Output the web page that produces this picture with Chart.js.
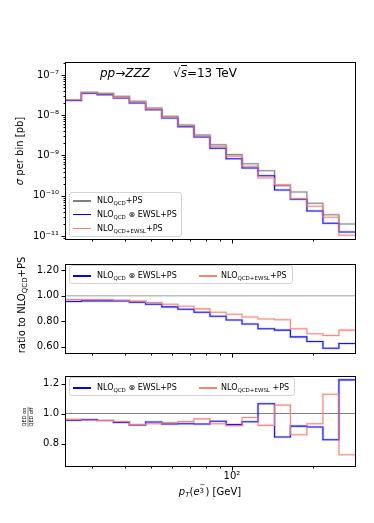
<!DOCTYPE html>
<html><head><meta charset="utf-8">
<script src="https://cdn.jsdelivr.net/npm/chart.js@4/dist/chart.umd.min.js"></script>
<style>
html,body{margin:0;padding:0;background:#fff;}
#wrap{position:relative;width:374px;height:523px;overflow:hidden;font-family:"DejaVu Sans",sans-serif;color:#000;}
canvas{position:absolute;left:0;top:0;}
.t{position:absolute;white-space:nowrap;line-height:1;}
.leg{position:absolute;background:rgba(255,255,255,0.85);border:1px solid #d4d4d4;border-radius:3px;box-sizing:border-box;font-size:8px;}
.li{position:absolute;white-space:nowrap;line-height:1;transform:translateY(-50%);}
.sw{position:absolute;height:1.6px;width:18px;}
.leg sub{font-size:5.5px;vertical-align:-1.5px;line-height:0;}
.yl sub{font-size:7px;vertical-align:-2px;line-height:0;}
</style></head>
<body>
<div id="wrap">
<canvas id="c1" width="374" height="523"></canvas>
<canvas id="c2" width="374" height="523"></canvas>
<canvas id="c3" width="374" height="523"></canvas>

<div class="t" style="left:100px;top:67px;font-size:12px;"><i>pp</i>→<i>ZZZ</i></div>
<div class="t" style="left:173px;top:67px;font-size:12px;">√<span style="border-top:1px solid #000;font-style:italic;">s</span>=13 TeV</div>

<div class="t" style="left:20px;top:151px;font-size:10px;transform:translate(-50%,-50%) rotate(-90deg);"><i>σ</i> per bin [pb]</div>
<div class="t yl" style="left:22px;top:305px;font-size:10px;transform:translate(-50%,-50%) rotate(-90deg);">ratio to NLO<sub>QCD</sub>+PS</div>
<div class="t" style="left:28px;top:417px;font-size:10px;transform:translate(-50%,-50%) rotate(-90deg) scale(0.5);text-align:center;">
  <div style="border-bottom:1.5px solid #000;padding:0 1px 1px 1px;">QED on</div><div style="padding-top:1px;">QED off</div></div>

<div class="t" style="left:210px;top:493px;font-size:10px;transform:translate(-50%,-50%);"><i>p<sub style="font-size:7px;vertical-align:-2px;">T</sub></i>(<i>e</i><span style="display:inline-block;position:relative;width:6px;"><span style="position:absolute;left:0;top:-5px;font-size:7px;">−</span><span style="position:absolute;left:0;top:1px;font-size:7px;">3</span>&nbsp;</span>) [GeV]</div>

<div class="leg" style="left:69px;top:192px;width:113px;height:45px;">
  <div class="sw" style="left:3px;top:7px;background:#808080;"></div><div class="li" style="left:27px;top:8px;">NLO<sub>QCD</sub>+PS</div>
  <div class="sw" style="left:3px;top:20.5px;background:#0000ff;"></div><div class="li" style="left:27px;top:21.5px;">NLO<sub>QCD</sub> ⊗ EWSL+PS</div>
  <div class="sw" style="left:3px;top:34.5px;background:#fa8072;"></div><div class="li" style="left:27px;top:35.5px;">NLO<sub>QCD+EWSL</sub>+PS</div>
</div>
<div class="leg" style="left:69px;top:265px;width:224px;height:19px;">
  <div class="sw" style="left:3px;top:9px;background:#0000ff;"></div><div class="li" style="left:27px;top:10px;">NLO<sub>QCD</sub> ⊗ EWSL+PS</div>
  <div class="sw" style="left:129px;top:9px;background:#fa8072;"></div><div class="li" style="left:151px;top:10px;">NLO<sub>QCD+EWSL</sub>+PS</div>
</div>
<div class="leg" style="left:69px;top:377px;width:226px;height:19px;">
  <div class="sw" style="left:3px;top:9px;background:#0000ff;"></div><div class="li" style="left:27px;top:10px;">NLO<sub>QCD</sub> ⊗ EWSL+PS</div>
  <div class="sw" style="left:129px;top:9px;background:#fa8072;"></div><div class="li" style="left:151px;top:10px;">NLO<sub>QCD+EWSL</sub> +PS</div>
</div>
</div>

<script>
// ---- data ----
const binEdges = [23.9, 27.5, 31.5, 36.2, 41.5, 47.7, 54.8, 62.9, 72.2, 82.8, 95.1, 109, 125, 144, 165, 190, 218, 250, 287];

const sigmaNLOQCD = [2.39e-8, 3.72e-8, 3.51e-8, 2.96e-8, 2.22e-8, 1.51e-8, 9.42e-9, 5.73e-9, 3.23e-9, 1.85e-9, 1.05e-9, 6.25e-10, 4.19e-10, 1.78e-10, 1.24e-10, 6.49e-11, 3.38e-11, 1.99e-11];
const sigmaEWSLmult = [2.32e-8, 3.51e-8, 3.24e-8, 2.69e-8, 2.01e-8, 1.37e-8, 8.55e-9, 5.20e-9, 2.88e-9, 1.51e-9, 8.32e-10, 4.89e-10, 3.15e-10, 1.39e-10, 8.17e-11, 4.18e-11, 2.07e-11, 1.26e-11];
const sigmaEWSLadd = [2.39e-8, 3.63e-8, 3.37e-8, 2.79e-8, 2.13e-8, 1.43e-8, 8.89e-9, 5.41e-9, 3.05e-9, 1.69e-9, 9.55e-10, 5.39e-10, 2.76e-10, 1.88e-10, 8.46e-11, 5.47e-11, 2.92e-11, 1.04e-11];

const ratioEWSLmult = [0.955, 0.960, 0.960, 0.960, 0.950, 0.934, 0.913, 0.894, 0.870, 0.839, 0.810, 0.778, 0.741, 0.730, 0.677, 0.640, 0.587, 0.625];
const ratioEWSLadd = [0.970, 0.970, 0.970, 0.965, 0.958, 0.947, 0.934, 0.918, 0.897, 0.870, 0.855, 0.833, 0.817, 0.812, 0.741, 0.701, 0.688, 0.730];

const qedEWSLmult = [0.955, 0.959, 0.953, 0.941, 0.923, 0.943, 0.930, 0.932, 0.930, 0.948, 0.926, 0.945, 1.065, 0.843, 0.916, 0.910, 0.825, 1.224];
const qedEWSLadd = [0.961, 0.957, 0.953, 0.946, 0.926, 0.932, 0.939, 0.946, 0.964, 0.932, 0.919, 0.973, 0.921, 1.056, 0.858, 0.932, 1.128, 0.725];

const xTickValues = [30, 40, 50, 60, 70, 80, 90, 100, 200];
const xMajorTicks = [100];
const sigmaMajorTicks = [1e-11, 1e-10, 1e-9, 1e-8, 1e-7];
const ratioTicks = [0.6, 0.8, 1.0, 1.2];
const qedTicks = [0.8, 1.0, 1.2];

// ---- helpers ----
const COL = {gray:'#808080', blue:'#0000ff', salmon:'#fa8072'};
const SUP = {'-':'\u207B','0':'\u2070','1':'\u00B9','2':'\u00B2','3':'\u00B3','4':'\u2074','5':'\u2075','6':'\u2076','7':'\u2077','8':'\u2078','9':'\u2079'};
const supStr = s => String(s).split('').map(c=>SUP[c]).join('');
const pow10Label = v => '10' + supStr(Math.round(Math.log10(v)));

function stepData(vals){
  const d = vals.map((v,i)=>({x:binEdges[i], y:v}));
  d.push({x:binEdges[binEdges.length-1], y:vals[vals.length-1]});
  return d;
}
function hexA(hex,a){const n=parseInt(hex.slice(1),16);return `rgba(${n>>16},${(n>>8)&255},${n&255},${a})`;}
function lineSets(list){
  const main = list.map(([vals,c])=>({data:stepData(vals), borderColor:hexA(c,0.9), borderWidth:1.1, stepped:'before', pointRadius:0, fill:false}));
  const halo = list.map(([vals,c])=>({data:stepData(vals), borderColor:hexA(c,0.2), borderWidth:2.6, stepped:'before', pointRadius:0, fill:false}));
  return main.concat(halo);
}

const framePlugin = {
  id:'frame',
  beforeDatasetsDraw(chart, args, opts){
    if(opts.ref == null) return;
    const {ctx, chartArea:a, scales:{y}} = chart;
    const py = y.getPixelForValue(opts.ref);
    ctx.save(); ctx.strokeStyle = opts.refColor; ctx.lineWidth = opts.refWidth;
    ctx.beginPath(); ctx.moveTo(a.left, py); ctx.lineTo(a.right, py); ctx.stroke(); ctx.restore();
  },
  afterDraw(chart){
    const {ctx, chartArea:a, scales:{x,y}} = chart;
    ctx.save(); ctx.strokeStyle = '#000'; ctx.lineWidth = 1;
    ctx.strokeRect(Math.round(a.left)+0.5, Math.round(a.top)+0.5, Math.round(a.right-a.left), Math.round(a.bottom-a.top));
    ctx.beginPath();
    x.ticks.forEach(t=>{const px=Math.round(x.getPixelForValue(t.value))+0.5; const l=t.mj?4:2; ctx.moveTo(px,Math.round(a.bottom)+0.5); ctx.lineTo(px,Math.round(a.bottom)+0.5+l);});
    y.ticks.forEach(t=>{const py=Math.round(y.getPixelForValue(t.value))+0.5; const l=t.mj?4:2; ctx.moveTo(Math.round(a.left)+0.5,py); ctx.lineTo(Math.round(a.left)+0.5-l,py);});
    ctx.stroke(); ctx.restore();
  }
};
Chart.register(framePlugin);

const FONT = {family:'DejaVu Sans', size:10};

function xScale(showLabels, h){
  return {
    type:'logarithmic', min:binEdges[0], max:binEdges[binEdges.length-1], display:true,
    grid:{display:false, drawTicks:false}, border:{display:false},
    ticks:{display:showLabels, autoSkip:false, maxRotation:0, minRotation:0, padding:4, font:FONT, color:'#000',
      callback:(v,i,ts)=> ts[i] && ts[i].mj ? pow10Label(v) : ''},
    afterBuildTicks:s=>{ s.ticks = xTickValues.map(v=>({value:v, mj:xMajorTicks.includes(v)})); },
    afterFit:s=>{ s.height = h; }
  };
}

function makeChart(id, datasets, yScale, pad, xLabels, xH, pluginOpts){
  new Chart(document.getElementById(id), {
    type:'line',
    data:{datasets},
    options:{
      responsive:false, animation:false, devicePixelRatio:1,
      layout:{padding:{left:0, right:19, top:pad.top, bottom:pad.bottom}},
      plugins:{legend:{display:false}, tooltip:{enabled:false}, frame:pluginOpts},
      scales:{x:xScale(xLabels, xH), y:yScale}
    }
  });
}

// top panel
makeChart('c1',
  lineSets([[sigmaEWSLadd,COL.salmon],[sigmaEWSLmult,COL.blue],[sigmaNLOQCD,COL.gray]]),
  {type:'logarithmic', min:8.42e-12, max:2.1e-7,
   grid:{display:false, drawTicks:false}, border:{display:false},
   ticks:{autoSkip:false, padding:6, font:FONT, color:'#000', callback:(v,i,ts)=> ts[i] && ts[i].mj ? pow10Label(v) : ''},
   afterBuildTicks:s=>{
     const out=[];
     sigmaMajorTicks.concat([1e-12]).forEach(d=>{ for(let m=1;m<10;m++){ const v=m*d; if(v>=s.min && v<=s.max) out.push({value:v, mj:m===1}); } });
     out.sort((a,b)=>a.value-b.value); s.ticks=out;
   },
   afterFit:s=>{ s.width = 65; }},
  {top:62, bottom:523-239}, false, 0, {ref:null});

// middle panel
makeChart('c2',
  lineSets([[ratioEWSLadd,COL.salmon],[ratioEWSLmult,COL.blue]]),
  {type:'linear', min:0.55, max:1.25,
   grid:{display:false, drawTicks:false}, border:{display:false},
   ticks:{autoSkip:false, padding:6, font:FONT, color:'#000', callback:v=>v.toFixed(2)},
   afterBuildTicks:s=>{ s.ticks = ratioTicks.map(v=>({value:v, mj:true})); },
   afterFit:s=>{ s.width = 65; }},
  {top:264, bottom:523-353}, false, 0, {ref:1, refColor:'#bdbdbd', refWidth:1.5});

// bottom panel
makeChart('c3',
  lineSets([[qedEWSLadd,COL.salmon],[qedEWSLmult,COL.blue]]),
  {type:'linear', min:0.65, max:1.25,
   grid:{display:false, drawTicks:false}, border:{display:false},
   ticks:{autoSkip:false, padding:6, font:FONT, color:'#000', callback:v=>v.toFixed(1)},
   afterBuildTicks:s=>{ s.ticks = qedTicks.map(v=>({value:v, mj:true})); },
   afterFit:s=>{ s.width = 65; }},
  {top:376, bottom:523-466-20}, true, 20, {ref:1, refColor:'#808080', refWidth:1});
</script>
</body></html>
